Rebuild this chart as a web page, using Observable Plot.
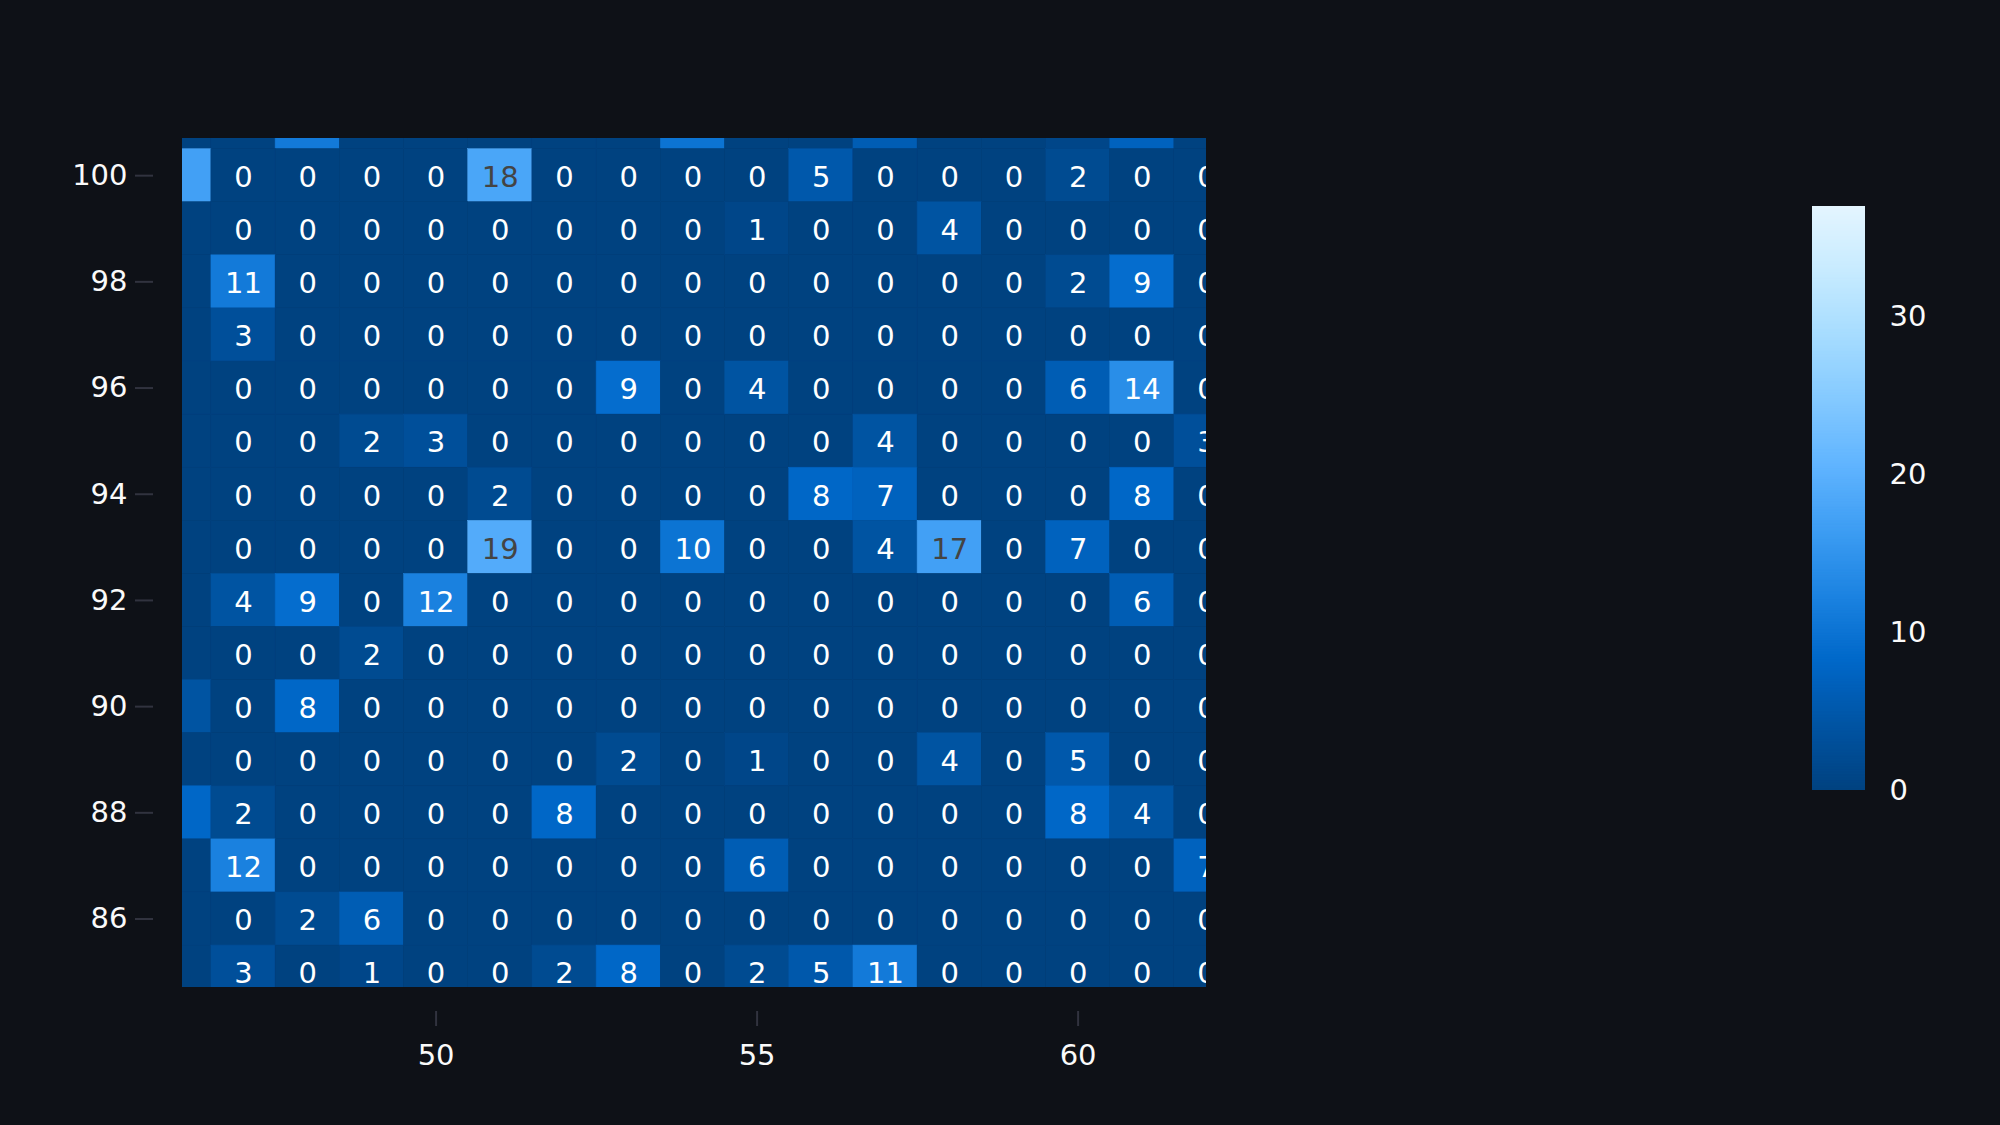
<!DOCTYPE html>
<html>
<head>
<meta charset="utf-8">
<script src="https://cdn.jsdelivr.net/npm/d3@7"></script>
<script src="https://cdn.jsdelivr.net/npm/@observablehq/plot@0.6"></script>
<style>
  html, body { margin: 0; padding: 0; background: #0e1117; }
  #wrap { position: relative; width: 2000px; height: 1125px; overflow: hidden; background: #0e1117; }
  #main { position: absolute; left: 0; top: 0; }
  #bar { position: absolute; left: 1812px; top: 186px; }
</style>
</head>
<body>
<div id="wrap"><div id="main"></div><div id="bar"></div></div>
<script>
// ---- data ----
const xValues = [46, 47, 48, 49, 50, 51, 52, 53, 54, 55, 56, 57, 58, 59, 60, 61, 62];
const yValues = [101, 100, 99, 98, 97, 96, 95, 94, 93, 92, 91, 90, 89, 88, 87, 86, 85];
const zRows = [
  [0, 0, 11, 0, 0, 0, 0, 0, 10, 0, 0, 6, 0, 0, 1, 7, 0],   // 101
  [17, 0, 0, 0, 0, 18, 0, 0, 0, 0, 5, 0, 0, 0, 2, 0, 0],   // 100
  [0, 0, 0, 0, 0, 0, 0, 0, 0, 1, 0, 0, 4, 0, 0, 0, 0],     // 99
  [0, 11, 0, 0, 0, 0, 0, 0, 0, 0, 0, 0, 0, 0, 2, 9, 0],    // 98
  [0, 3, 0, 0, 0, 0, 0, 0, 0, 0, 0, 0, 0, 0, 0, 0, 0],     // 97
  [0, 0, 0, 0, 0, 0, 0, 9, 0, 4, 0, 0, 0, 0, 6, 14, 0],    // 96
  [0, 0, 0, 2, 3, 0, 0, 0, 0, 0, 0, 4, 0, 0, 0, 0, 3],     // 95
  [0, 0, 0, 0, 0, 2, 0, 0, 0, 0, 8, 7, 0, 0, 0, 8, 0],     // 94
  [0, 0, 0, 0, 0, 19, 0, 0, 10, 0, 0, 4, 17, 0, 7, 0, 0],  // 93
  [0, 4, 9, 0, 12, 0, 0, 0, 0, 0, 0, 0, 0, 0, 0, 6, 0],    // 92
  [0, 0, 0, 2, 0, 0, 0, 0, 0, 0, 0, 0, 0, 0, 0, 0, 0],     // 91
  [4, 0, 8, 0, 0, 0, 0, 0, 0, 0, 0, 0, 0, 0, 0, 0, 0],     // 90
  [0, 0, 0, 0, 0, 0, 0, 2, 0, 1, 0, 0, 4, 0, 5, 0, 0],     // 89
  [8, 2, 0, 0, 0, 0, 8, 0, 0, 0, 0, 0, 0, 0, 8, 4, 0],     // 88
  [0, 12, 0, 0, 0, 0, 0, 0, 0, 6, 0, 0, 0, 0, 0, 0, 7],    // 87
  [0, 0, 2, 6, 0, 0, 0, 0, 0, 0, 0, 0, 0, 0, 0, 0, 0],     // 86
  [0, 3, 0, 1, 0, 0, 2, 8, 0, 2, 5, 11, 0, 0, 0, 0, 0]     // 85
];
const xTicks = [50, 55, 60];
const yTicks = [86, 88, 90, 92, 94, 96, 98, 100];
const colorTicks = [0, 10, 20, 30];
const colorMax = 37;
const palette = ["#004280", "#0054a3", "#0068c9", "#1c83e1", "#3d9df3", "#60b4ff", "#83c9ff", "#a6dcff", "#c7ebff", "#e4f5ff"];

// ---- build table ----
const cells = [];
yValues.forEach((y, i) => xValues.forEach((x, j) => cells.push({x, y, z: zRows[i][j]})));

const xDomain = [46.05, 62.0];
const yDomain = [84.71, 100.70];
const inView = cells.filter(d => d.x >= xDomain[0] && d.x <= xDomain[1] + 0.001 && d.y >= yDomain[0] && d.y <= yDomain[1]);
const lightCells = inView.filter(d => d.z >= 16);
const darkCells = inView.filter(d => d.z < 16);

const colorScale = {type: "linear", domain: [0, colorMax], interpolate: d3.piecewise(d3.interpolateRgb, palette)};
const font = "'DejaVu Sans', Verdana, sans-serif";
const fs = 29;

const main = Plot.plot({
  width: 2000, height: 1125,
  marginLeft: 182, marginRight: 794, marginTop: 138, marginBottom: 138,
  style: {background: "transparent", color: "#fafafa", fontFamily: font, fontSize: fs + "px"},
  x: {domain: xDomain, axis: null},
  y: {domain: yDomain, axis: null},
  color: colorScale,
  marks: [
    Plot.rect(cells, {
      x1: d => d.x - 0.5, x2: d => d.x + 0.5,
      y1: d => d.y - 0.5, y2: d => d.y + 0.5,
      fill: "z", stroke: "z", strokeWidth: 0.5, clip: true
    }),
    Plot.text(darkCells, {x: "x", y: "y", text: d => String(d.z), fill: "#ffffff", fontSize: fs, fontFamily: font, dy: 2, clip: true}),
    Plot.text(lightCells, {x: "x", y: "y", text: d => String(d.z), fill: "#444444", fontSize: fs, fontFamily: font, dy: 2, clip: true}),
    Plot.axisY({ticks: yTicks, label: null, tickSize: 18, tickPadding: 8, dx: -29, stroke: "#31333F", strokeWidth: 2, fill: "#fafafa", fontSize: fs, fontFamily: font}),
    Plot.axisX({ticks: xTicks, label: null, tickSize: 15, tickPadding: 18, dy: 24, stroke: "#31333F", strokeWidth: 2, fill: "#fafafa", fontSize: fs, fontFamily: font})
  ]
});
document.getElementById("main").appendChild(main);

const rampStep = 0.1;
const rampVals = d3.range(0, colorMax, rampStep);
const bar = Plot.plot({
  width: 188, height: 624,
  marginLeft: 0, marginRight: 135, marginTop: 20, marginBottom: 20,
  style: {background: "transparent", color: "#fafafa", fontFamily: font, fontSize: fs + "px"},
  x: {domain: [0, 1], axis: null},
  y: {domain: [0, colorMax], axis: null},
  color: colorScale,
  marks: [
    Plot.rect(rampVals, {x1: () => 0, x2: () => 1, y1: d => d, y2: d => Math.min(colorMax, d + rampStep * 2), fill: d => d + rampStep / 2}),
    Plot.axisY({anchor: "right", label: null, ticks: colorTicks, tickSize: 0, tickPadding: 24, fill: "#fafafa", fontSize: fs, fontFamily: font})
  ]
});
document.getElementById("bar").appendChild(bar);
</script>
</body>
</html>
